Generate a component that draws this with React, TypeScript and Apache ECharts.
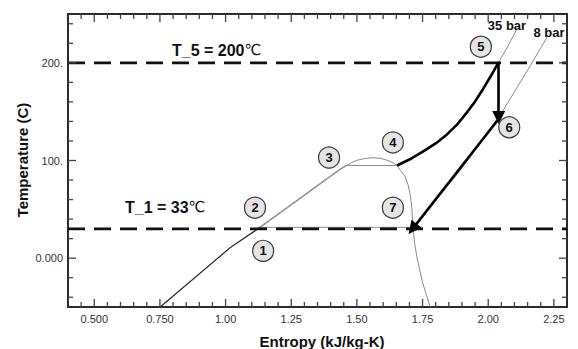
import React, { useEffect, useRef } from "react";
import * as echarts from "echarts";

// ---- axis ticks ----
const xMin = 0.4;
const xMax = 2.3;
const yMin = -50;
const yMax = 250;
const xTickValues = [0.5, 0.75, 1.0, 1.25, 1.5, 1.75, 2.0, 2.25];
const xTickLabels = ["0.500", "0.750", "1.00", "1.25", "1.50", "1.75", "2.00", "2.25"];
const xMinorTicks = [0.45, 0.55, 0.6, 0.65, 0.7, 0.8, 0.85, 0.9, 0.95, 1.05, 1.1, 1.15, 1.2, 1.3, 1.35, 1.4, 1.45, 1.55, 1.6, 1.65, 1.7, 1.8, 1.85, 1.9, 1.95, 2.05, 2.1, 2.15, 2.2];
const yTickValues = [0, 100, 200];
const yTickLabels = ["0.000", "100.", "200."];
const yMinorTicks = [-40, -20, 20, 40, 60, 80, 120, 140, 160, 180, 220, 240];

// ---- saturation dome ----
const domeS = [0.751, 1.017, 1.131, 1.3, 1.4, 1.436, 1.462, 1.48, 1.5, 1.53, 1.561, 1.59, 1.615, 1.635, 1.653, 1.665, 1.683, 1.695, 1.703, 1.709, 1.713, 1.72, 1.729, 1.75, 1.779];
const domeT = [-50, 10.6, 31.1, 64, 83.5, 90.5, 94.9, 98, 100.2, 102, 102.8, 102.2, 100.3, 98, 94.9, 90, 84, 75, 65, 52.7, 32, 15, 0.3, -25, -50];

// ---- 35 bar isobar ----
const p35LiqS = [1.1, 1.126, 1.295, 1.395, 1.431, 1.458, 1.653];
const p35LiqT = [25, 31.1, 64, 83.5, 90.5, 94.9, 94.9];
const p35VapS = [1.653, 1.7, 1.751, 1.8, 1.843, 1.882, 1.919, 1.95, 1.98, 2.01, 2.04, 2.075, 2.109];
const p35VapT = [94.9, 101, 109, 117.5, 126.7, 137, 149.3, 160.5, 173, 186.5, 200.7, 217, 234.6];

// ---- 8 bar isobar ----
const p8LiqS = [0.751, 1.017, 1.131];
const p8LiqT = [-50, 10.6, 31.6];
const p8FlatS = [1.131, 1.713];
const p8FlatT = [31.6, 31.6];
const p8VapS = [1.713, 1.79, 1.881, 1.965, 2.056, 2.14, 2.227];
const p8VapT = [31.6, 57, 85.6, 116, 151, 188, 227.4];

// ---- process 4 -> 5 (compression) ----
const compS = [1.653, 1.7, 1.751, 1.8, 1.843, 1.882, 1.919, 1.95, 1.98, 2.01, 2.04];
const compT = [94.9, 101, 109, 117.5, 126.7, 137, 149.3, 160.5, 173, 186.5, 200.7];

// ---- arrows 5 -> 6, 6 -> 7 ----
const arrowFrom = [[2.04, 200.7], [2.044, 144]];
const arrowTo = [[2.04, 144], [1.712, 30]];

// ---- reference temperatures ----
const T5 = 200;
const T1 = 30;

// ---- numbered state points ----
const stateNames = ["1", "2", "3", "4", "5", "6", "7"];
const stateS = [1.143, 1.112, 1.394, 1.637, 1.972, 2.08, 1.637];
const stateT = [7.5, 51.7, 103, 118.5, 216.5, 134, 51.7];

const FONT = "'Liberation Sans', Arial, Helvetica, sans-serif";
const pair = (a: number[], b: number[]) => a.map((v, i) => [v, b[i]]);

export default function App() {
  const ref = useRef<HTMLDivElement>(null);
  useEffect(() => {
    if (!ref.current) return;
    const chart = echarts.init(ref.current, null, { renderer: "svg" });
    const frame = () => ({ show: true, onZero: false, lineStyle: { color: "#2b2b2b", width: 2 } });
    const baseX = () => ({ type: "value", min: xMin, max: xMax, splitLine: { show: false }, axisTick: { show: false } });
    const baseY = () => ({ type: "value", min: yMin, max: yMax, splitLine: { show: false }, axisTick: { show: false } });
    const thin = (data: number[][], color = "#8a8a8a", width = 1) => ({
      type: "line",
      data,
      showSymbol: false,
      symbol: "none",
      smooth: false,
      lineStyle: { color, width },
      z: 2,
    });
    // tick marks: [value, major flag]
    const xTickData = [...xTickValues.map((v) => [v, 1]), ...xMinorTicks.map((v) => [v, 0])];
    const yTickData = [...yTickValues.map((v) => [v, 1]), ...yMinorTicks.map((v) => [v, 0])];
    const tickSeries = (side: string, data: number[][]) => ({
      type: "custom",
      encode: { x: 0, y: 1 },
      data,
      z: 7,
      renderItem: (params: any, api: any) => {
        const v = api.value(0);
        const len = api.value(1) ? 8 : 5;
        let a: number[];
        let d: number[];
        if (side === "bottom") {
          a = api.coord([v, yMin]);
          d = [0, -len];
        } else if (side === "top") {
          a = api.coord([v, yMax]);
          d = [0, len];
        } else if (side === "left") {
          a = api.coord([xMin, v]);
          d = [len, 0];
        } else {
          a = api.coord([xMax, v]);
          d = [-len, 0];
        }
        return {
          type: "line",
          shape: { x1: a[0], y1: a[1], x2: a[0] + d[0], y2: a[1] + d[1] },
          style: { stroke: "#444", lineWidth: 1.3 },
        };
      },
    });
    const option: any = {
      animation: false,
      grid: { left: 68, right: 11, top: 14, bottom: 42 },
      xAxis: [
        {
          ...baseX(),
          position: "bottom",
          axisLine: frame(),
          axisLabel: {
            show: true,
            customValues: xTickValues,
            margin: 6,
            fontSize: 11,
            color: "#333",
            fontFamily: FONT,
            formatter: (v: number) => {
              const i = xTickValues.findIndex((t) => Math.abs(t - v) < 1e-6);
              return i >= 0 ? xTickLabels[i] : "";
            },
          },
        },
        { ...baseX(), position: "top", axisLine: frame(), axisLabel: { show: false } },
      ],
      yAxis: [
        {
          ...baseY(),
          position: "left",
          axisLine: frame(),
          axisLabel: {
            show: true,
            customValues: yTickValues,
            margin: 5,
            fontSize: 11,
            color: "#333",
            fontFamily: FONT,
            formatter: (v: number) => {
              const i = yTickValues.findIndex((t) => Math.abs(t - v) < 1e-6);
              return i >= 0 ? yTickLabels[i] : "";
            },
          },
        },
        { ...baseY(), position: "right", axisLine: frame(), axisLabel: { show: false } },
      ],
      series: [
        tickSeries("bottom", xTickData),
        tickSeries("top", xTickData),
        tickSeries("left", yTickData),
        tickSeries("right", yTickData),
        thin(pair(domeS, domeT)),
        thin(pair(p35LiqS, p35LiqT)),
        thin(pair(p35VapS, p35VapT)),
        thin(pair(p8LiqS, p8LiqT), "#333", 1.2),
        thin(pair(p8FlatS, p8FlatT)),
        thin(pair(p8VapS, p8VapT)),
        {
          type: "line",
          data: [[xMin, T5], [xMax, T5]],
          showSymbol: false,
          symbol: "none",
          lineStyle: { color: "#111", width: 2.6, type: [17, 9] },
          z: 3,
        },
        {
          type: "line",
          data: [[xMin, T1], [xMax, T1]],
          showSymbol: false,
          symbol: "none",
          lineStyle: { color: "#111", width: 2.6, type: [17, 9] },
          z: 3,
        },
        {
          type: "line",
          data: pair(compS, compT),
          showSymbol: false,
          symbol: "none",
          smooth: false,
          lineStyle: { color: "#000", width: 2.6 },
          z: 4,
        },
        {
          type: "lines",
          coordinateSystem: "cartesian2d",
          xAxisIndex: 0,
          yAxisIndex: 0,
          symbol: ["none", "triangle"],
          symbolSize: [8, 13],
          lineStyle: { color: "#000", width: 2.6, opacity: 1 },
          data: arrowFrom.map((f, i) => ({ coords: [f, arrowTo[i]] })),
          z: 5,
        },
        {
          type: "scatter",
          symbol: "circle",
          symbolSize: 21,
          itemStyle: { color: "#e4e4e4", borderColor: "#3a3a3a", borderWidth: 1.2, opacity: 1 },
          label: {
            show: true,
            position: "inside",
            formatter: "{b}",
            fontSize: 13,
            fontWeight: "bold",
            color: "#111",
            fontFamily: FONT,
          },
          data: stateNames.map((n, i) => ({ name: n, value: [stateS[i], stateT[i]] })),
          z: 6,
        },
      ],
      graphic: [
        {
          type: "text",
          x: 172,
          y: 50,
          style: {
            text: "{a|T_5 = 200}{b|℃}",
            verticalAlign: "middle",
            rich: {
              a: { fontSize: 16, fontWeight: "bold", fill: "#111", fontFamily: FONT },
              b: { fontSize: 15, fontWeight: "normal", fill: "#111", fontFamily: "'DejaVu Sans', sans-serif" },
            },
          },
          z: 10,
        },
        {
          type: "text",
          x: 125,
          y: 207,
          style: {
            text: "{a|T_1 = 33}{b|℃}",
            verticalAlign: "middle",
            rich: {
              a: { fontSize: 16, fontWeight: "bold", fill: "#111", fontFamily: FONT },
              b: { fontSize: 15, fontWeight: "normal", fill: "#111", fontFamily: "'DejaVu Sans', sans-serif" },
            },
          },
          z: 10,
        },
        {
          type: "text",
          x: 507,
          y: 25,
          style: { text: "35 bar", align: "center", verticalAlign: "middle", fontSize: 13, fontWeight: "bold", fill: "#111", fontFamily: FONT },
          z: 10,
        },
        {
          type: "text",
          x: 549,
          y: 32,
          style: { text: "8 bar", align: "center", verticalAlign: "middle", fontSize: 13, fontWeight: "bold", fill: "#111", fontFamily: FONT },
          z: 10,
        },
        {
          type: "text",
          x: 322,
          y: 341,
          style: { text: "Entropy (kJ/kg-K)", align: "center", verticalAlign: "middle", fontSize: 15, fontWeight: "bold", fill: "#111", fontFamily: FONT },
          z: 10,
        },
        {
          type: "text",
          x: 22,
          y: 160,
          rotation: Math.PI / 2,
          style: { text: "Temperature (C)", align: "center", verticalAlign: "middle", fontSize: 15, fontWeight: "bold", fill: "#111", fontFamily: FONT },
          z: 10,
        },
      ],
    };
    chart.setOption(option);
    return () => chart.dispose();
  }, []);
  return <div ref={ref} style={{ position: "fixed", left: 0, top: 0, width: 578, height: 349, background: "#fff" }} />;
}
